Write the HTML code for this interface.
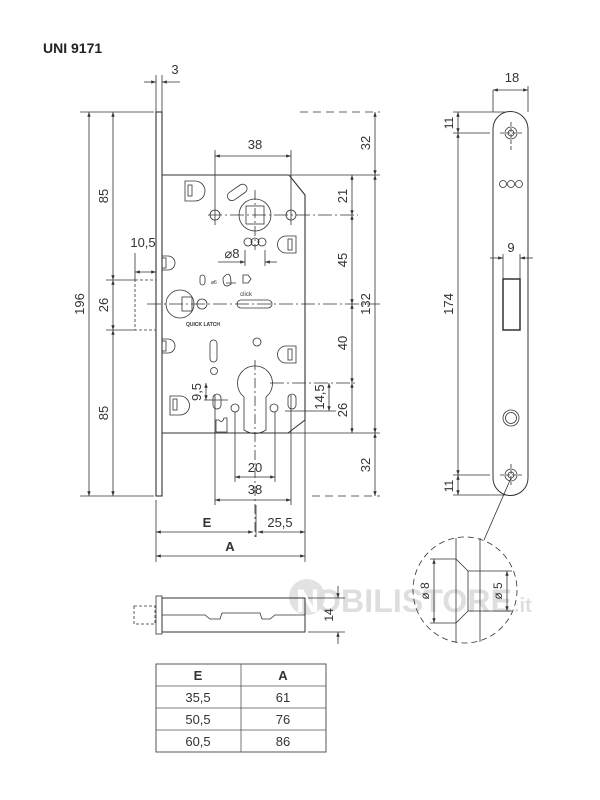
<!DOCTYPE html>
<html><head><meta charset="utf-8"><style>
html,body{margin:0;padding:0;background:#fff;}
svg{display:block;}
text{font-family:"Liberation Sans",Arial,sans-serif;fill:#333;}
</style></head><body>
<svg width="600" height="800" viewBox="0 0 600 800" xmlns="http://www.w3.org/2000/svg">
<defs>
<marker id="a" viewBox="0 0 10 10" refX="10" refY="5" markerWidth="6" markerHeight="6" orient="auto-start-reverse"><path d="M0,1.5 L10,5 L0,8.5 z" fill="#333"/></marker>
</defs>
<!-- watermark -->
<circle cx="307" cy="597" r="18" fill="#e2e2e2"/>
<text x="296" y="612" font-size="32" font-weight="bold" style="fill:#fff">N</text>
<text x="316" y="612" font-size="32" font-weight="bold" textLength="196" style="fill:#dedede">OBILISTORE</text>
<text x="514" y="612" font-size="20" font-weight="bold" style="fill:#dedede">.it</text>

<text x="43" y="53" font-size="14" font-weight="bold" style="fill:#222">UNI 9171</text>

<g stroke="#333" stroke-width="0.8" fill="none">
<!-- faceplate -->
<rect x="156" y="112" width="6" height="384" stroke-width="1.1"/>
<!-- body -->
<path d="M162,175 H289 L305,195 V420 L288,433 H162" stroke-width="1.1"/>
<!-- 3 dim -->
<line x1="156" y1="75" x2="156" y2="112"/><line x1="162" y1="75" x2="162" y2="112"/>
<line x1="144" y1="82" x2="156" y2="82" marker-end="url(#a)"/><line x1="180" y1="82" x2="162" y2="82" marker-end="url(#a)"/>
<!-- left dims -->
<line x1="80" y1="112" x2="154" y2="112"/><line x1="80" y1="496" x2="154" y2="496"/>
<line x1="89" y1="112" x2="89" y2="496" marker-start="url(#a)" marker-end="url(#a)"/>
<line x1="113" y1="112" x2="113" y2="280" marker-start="url(#a)" marker-end="url(#a)"/>
<line x1="113" y1="280" x2="113" y2="330" marker-start="url(#a)" marker-end="url(#a)"/>
<line x1="113" y1="330" x2="113" y2="496" marker-start="url(#a)" marker-end="url(#a)"/>
<line x1="106" y1="280" x2="135" y2="280"/><line x1="106" y1="330" x2="135" y2="330"/>
<rect x="135" y="280" width="21" height="50" stroke-dasharray="3,2"/>
<line x1="135" y1="253" x2="135" y2="280"/>
<line x1="135" y1="272" x2="156" y2="272" marker-start="url(#a)" marker-end="url(#a)"/>
<!-- center lines -->
<line x1="147" y1="304" x2="380" y2="304" stroke-dasharray="14,3,2,3"/>
<line x1="208" y1="215" x2="358" y2="215" stroke-dasharray="14,3,2,3"/>
<line x1="270" y1="383" x2="358" y2="383" stroke-dasharray="14,3,2,3"/>
<line x1="255" y1="190" x2="255" y2="250" stroke-dasharray="10,3,2,3"/>
<line x1="255" y1="360" x2="255" y2="537" stroke-dasharray="10,3,2,3"/>
<!-- right dims -->
<line x1="300" y1="112" x2="380" y2="112" stroke-dasharray="8,5"/>
<line x1="312" y1="496" x2="380" y2="496" stroke-dasharray="8,5"/>
<line x1="290" y1="175" x2="380" y2="175"/>
<line x1="287" y1="433" x2="380" y2="433"/>
<line x1="375" y1="112" x2="375" y2="175" marker-start="url(#a)" marker-end="url(#a)"/>
<line x1="375" y1="175" x2="375" y2="433" marker-start="url(#a)" marker-end="url(#a)"/>
<line x1="375" y1="433" x2="375" y2="496" marker-start="url(#a)" marker-end="url(#a)"/>
<line x1="352" y1="175" x2="352" y2="215" marker-start="url(#a)" marker-end="url(#a)"/>
<line x1="352" y1="215" x2="352" y2="304" marker-start="url(#a)" marker-end="url(#a)"/>
<line x1="352" y1="304" x2="352" y2="383" marker-start="url(#a)" marker-end="url(#a)"/>
<line x1="352" y1="383" x2="352" y2="433" marker-start="url(#a)" marker-end="url(#a)"/>
<line x1="285" y1="411" x2="336" y2="411"/>
<line x1="329" y1="383" x2="329" y2="411" marker-start="url(#a)" marker-end="url(#a)"/>
<!-- 9,5 -->
<line x1="204" y1="400" x2="228" y2="400"/>
<line x1="206" y1="383" x2="206" y2="400" marker-start="url(#a)" marker-end="url(#a)"/>
<!-- top 38 -->
<line x1="215" y1="150" x2="215" y2="225"/><line x1="291" y1="150" x2="291" y2="225"/>
<line x1="215" y1="156" x2="291" y2="156" marker-start="url(#a)" marker-end="url(#a)"/>
<!-- ø8 -->
<line x1="245" y1="250" x2="245" y2="266"/><line x1="265" y1="250" x2="265" y2="266"/>
<line x1="218" y1="262" x2="245" y2="262" marker-end="url(#a)"/><line x1="277" y1="262" x2="265" y2="262" marker-end="url(#a)"/>
<!-- bottom dims -->
<line x1="215" y1="395" x2="215" y2="505"/><line x1="291" y1="395" x2="291" y2="505"/>
<line x1="235" y1="412" x2="235" y2="482"/><line x1="275" y1="412" x2="275" y2="482"/>
<line x1="235" y1="477" x2="275" y2="477" marker-start="url(#a)" marker-end="url(#a)"/>
<line x1="215" y1="500" x2="291" y2="500" marker-start="url(#a)" marker-end="url(#a)"/>
<line x1="156" y1="500" x2="156" y2="562"/>
<line x1="305" y1="420" x2="305" y2="562"/>
<line x1="256" y1="505" x2="256" y2="537"/>
<line x1="156" y1="532" x2="253" y2="532" marker-start="url(#a)" marker-end="url(#a)"/>
<line x1="258" y1="532" x2="305" y2="532" marker-start="url(#a)" marker-end="url(#a)"/>
<line x1="156" y1="556" x2="305" y2="556" marker-start="url(#a)" marker-end="url(#a)"/>

<!-- internals -->
<path d="M185,181 h10 a8,8 0 0 1 0,20 h-10 z"/><rect x="188" y="185" width="4" height="11"/>
<path d="M296,236 h-10 a8,8 0 0 0 0,17 h10 z"/><rect x="288" y="239" width="4" height="11"/>
<path d="M296,346 h-10 a8,8 0 0 0 0,17 h10 z"/><rect x="288" y="349" width="4" height="11"/>
<path d="M170,396 h10 a8,8 0 0 1 0,19 h-10 z"/><rect x="173" y="399" width="4" height="11"/>
<rect x="226" y="188" width="22" height="9" rx="4.5" transform="rotate(-35 237 192)"/>
<circle cx="255" cy="215" r="16"/><rect x="246" y="206" width="18" height="18"/>
<circle cx="215" cy="215" r="5"/><circle cx="291" cy="215" r="5"/>
<circle cx="248" cy="242" r="4"/><circle cx="255" cy="242" r="4"/><circle cx="262" cy="242" r="4"/>
<path d="M162,256 h6 a7,7 0 0 1 0,14 h-6"/><path d="M162,339 h6 a7,7 0 0 1 0,14 h-6"/>
<rect x="162" y="258" width="4" height="10"/><rect x="162" y="341" width="4" height="10"/>
<circle cx="180" cy="304" r="14"/><rect x="182" y="297" width="10" height="14"/>
<circle cx="202" cy="304" r="5"/>
<rect x="237" y="300" width="35" height="8" rx="4"/>
<rect x="200" y="275" width="5" height="10" rx="2.5"/>
<path d="M223,278 q8,-10 8,6 q-8,6 -8,-6 M226,283 h10"/>
<path d="M243,275 h5 l3,4 l-3,4 h-5 z"/>
<rect x="210" y="340" width="7" height="22" rx="3.5"/>
<circle cx="214" cy="371" r="3.5"/><circle cx="257" cy="342" r="4"/>
<path d="M244,430 V397 A17.5,17.5 0 1 1 266,397 V430 Q255,437 244,430 z"/>
<circle cx="235" cy="408" r="4"/><circle cx="274" cy="408" r="4"/>
<rect x="288" y="394" width="8" height="15" rx="4"/><rect x="213" y="394" width="8" height="15" rx="4"/>
<path d="M216,420 v12 h11 v-14 h-3 q-2,6 -5,2 z"/>

<!-- bolt view -->
<rect x="134" y="606" width="21" height="18" stroke-dasharray="3,2"/>
<rect x="156" y="596" width="6" height="38"/>
<rect x="162" y="598" width="143" height="34" stroke-width="1"/>
<path d="M162,615 H205 L210,619 H220 L222,613 H260 L262,619 H270 L275,615 H305"/>
<line x1="308" y1="598" x2="345" y2="598"/><line x1="308" y1="632" x2="345" y2="632"/>
<line x1="338" y1="586" x2="338" y2="598" marker-end="url(#a)"/><line x1="338" y1="644" x2="338" y2="632" marker-end="url(#a)"/>

<!-- side plate -->
<path d="M493,129 A17.5,17.5 0 0 1 528,129 V478 A17.5,17.5 0 0 1 493,478 Z" stroke-width="1"/>
<line x1="493" y1="90" x2="493" y2="112"/><line x1="528" y1="86" x2="528" y2="112"/>
<line x1="493" y1="90" x2="528" y2="90" marker-start="url(#a)" marker-end="url(#a)"/>
<circle cx="511" cy="133" r="6"/><circle cx="511" cy="133" r="3"/>
<line x1="500" y1="133" x2="522" y2="133" stroke-dasharray="4,2"/><line x1="511" y1="122" x2="511" y2="150" stroke-dasharray="4,2"/>
<circle cx="511" cy="475" r="6"/><circle cx="511" cy="475" r="3"/>
<line x1="500" y1="475" x2="522" y2="475" stroke-dasharray="4,2"/><line x1="511" y1="464" x2="511" y2="485" stroke-dasharray="4,2"/>
<circle cx="503" cy="184" r="3.5"/><circle cx="511" cy="184" r="3.5"/><circle cx="519" cy="184" r="3.5"/>
<circle cx="511" cy="418" r="8"/><circle cx="511" cy="418" r="5.5"/>
<rect x="503" y="279" width="17" height="51" stroke-width="1.5"/>
<line x1="503" y1="254" x2="503" y2="279"/><line x1="520" y1="254" x2="520" y2="279"/>
<line x1="490" y1="258" x2="503" y2="258" marker-end="url(#a)"/><line x1="533" y1="258" x2="520" y2="258" marker-end="url(#a)"/>
<line x1="453" y1="112" x2="505" y2="112"/><line x1="453" y1="133" x2="490" y2="133"/>
<line x1="453" y1="475" x2="490" y2="475"/><line x1="453" y1="495" x2="505" y2="495"/>
<line x1="458" y1="112" x2="458" y2="133" marker-start="url(#a)" marker-end="url(#a)"/>
<line x1="458" y1="133" x2="458" y2="475" marker-start="url(#a)" marker-end="url(#a)"/>
<line x1="458" y1="475" x2="458" y2="495" marker-start="url(#a)" marker-end="url(#a)"/>
<!-- detail -->
<line x1="511" y1="478" x2="484" y2="540"/>
<ellipse cx="465" cy="590" rx="52" ry="53" stroke-dasharray="6,4"/>
<line x1="456" y1="538" x2="456" y2="642"/><line x1="480" y1="538" x2="480" y2="642"/>
<path d="M456,559 L468,571 H480 M456,623 L468,611 H480 M468,571 V611"/>
<line x1="430" y1="559" x2="456" y2="559"/><line x1="430" y1="623" x2="456" y2="623"/>
<line x1="434" y1="559" x2="434" y2="623" marker-start="url(#a)" marker-end="url(#a)"/>
<line x1="480" y1="571" x2="512" y2="571"/><line x1="480" y1="611" x2="512" y2="611"/>
<line x1="507" y1="571" x2="507" y2="611" marker-start="url(#a)" marker-end="url(#a)"/>

<!-- table -->
<rect x="156" y="664" width="170" height="88" stroke="#555" stroke-width="1"/>
<line x1="241" y1="664" x2="241" y2="752" stroke="#555"/>
<line x1="156" y1="686" x2="326" y2="686" stroke="#555"/>
<line x1="156" y1="708" x2="326" y2="708" stroke="#555"/>
<line x1="156" y1="730" x2="326" y2="730" stroke="#555"/>
</g>

<!-- texts -->
<g font-size="13" text-anchor="middle">
<text x="175" y="74">3</text>
<text x="143" y="247">10,5</text>
<text transform="translate(84,304) rotate(-90)">196</text>
<text transform="translate(108,196) rotate(-90)">85</text>
<text transform="translate(108,305) rotate(-90)">26</text>
<text transform="translate(108,413) rotate(-90)">85</text>
<text x="255" y="149">38</text>
<text x="232" y="258">⌀8</text>
<text transform="translate(370,143) rotate(-90)">32</text>
<text transform="translate(370,304) rotate(-90)">132</text>
<text transform="translate(370,465) rotate(-90)">32</text>
<text transform="translate(347,196) rotate(-90)">21</text>
<text transform="translate(347,260) rotate(-90)">45</text>
<text transform="translate(347,343) rotate(-90)">40</text>
<text transform="translate(347,410) rotate(-90)">26</text>
<text transform="translate(324,397) rotate(-90)">14,5</text>
<text transform="translate(201,392) rotate(-90)">9,5</text>
<text x="255" y="472">20</text>
<text x="255" y="494">38</text>
<text x="207" y="527" font-weight="bold">E</text>
<text x="280" y="527">25,5</text>
<text x="230" y="551" font-weight="bold">A</text>
<text transform="translate(333,615) rotate(-90)" font-size="12">14</text>
<text x="512" y="82">18</text>
<text x="511" y="252">9</text>
<text transform="translate(453,123) rotate(-90)" font-size="12">11</text>
<text transform="translate(453,304) rotate(-90)">174</text>
<text transform="translate(453,486) rotate(-90)" font-size="12">11</text>
<text transform="translate(429,591) rotate(-90)" font-size="12">ø 8</text>
<text transform="translate(502,591) rotate(-90)" font-size="12">ø 5</text>
<text x="198" y="680" font-weight="bold">E</text>
<text x="283" y="680" font-weight="bold">A</text>
<text x="198" y="702">35,5</text><text x="283" y="702">61</text>
<text x="198" y="724">50,5</text><text x="283" y="724">76</text>
<text x="198" y="746">60,5</text><text x="283" y="746">86</text>
</g>
<text x="203" y="326" font-size="5" text-anchor="middle" font-weight="bold">QUICK LATCH</text>
<text x="246" y="296" font-size="6" text-anchor="middle">click</text>
<text x="211" y="284" font-size="5">ø6</text>
</svg>
</body></html>
